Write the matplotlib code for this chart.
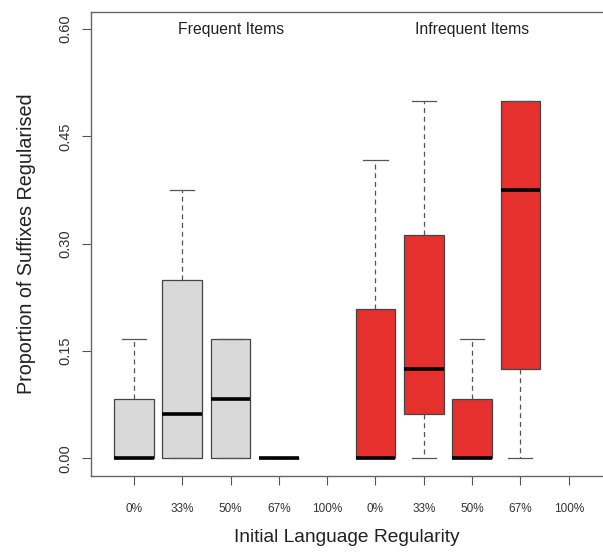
import matplotlib
matplotlib.use('Agg')
import matplotlib.pyplot as plt

plt.rcParams['font.family'] = ['Liberation Sans', 'DejaVu Sans']

tick_labels = ['0%', '33%', '50%', '67%', '100%', '0%', '33%', '50%', '67%', '100%']
groups = ['Frequent Items', 'Infrequent Items']

# five-number summaries (None = no data)
freq_stats = [
    (0.0, 0.0, 0.0, 0.0833, 0.1667),
    (0.0, 0.0, 0.0625, 0.25, 0.375),
    (0.0, 0.0, 0.0833, 0.1667, 0.1667),
    (0.0, 0.0, 0.0, 0.0, 0.0),
    None,
]
infreq_stats = [
    (0.0, 0.0, 0.0, 0.2083, 0.4167),
    (0.0, 0.0625, 0.125, 0.3125, 0.5),
    (0.0, 0.0, 0.0, 0.0833, 0.1667),
    (0.0, 0.125, 0.375, 0.5, 0.5),
    None,
]
colours = ['#d9d9d9', '#e5302e']

fig = plt.figure(figsize=(6.03, 5.55), dpi=100)
ax = fig.add_axes([91/603, 79/555, 1 - 91/603, (476 - 12)/555])

pos = 1
for stats_list, col in zip([freq_stats, infreq_stats], colours):
    for s in stats_list:
        if s is not None:
            lo, q1, med, q3, hi = s
            st = [dict(whislo=lo, q1=q1, med=med, q3=q3, whishi=hi, fliers=[])]
            ax.bxp(st, positions=[pos], widths=0.82, patch_artist=True,
                   showfliers=False, capwidths=0.5,
                   boxprops=dict(facecolor=col, edgecolor='#444444', linewidth=0.9),
                   medianprops=dict(color='black', linewidth=2.6, solid_capstyle='butt'),
                   whiskerprops=dict(color='#555555', linestyle=(0, (4, 3)), linewidth=0.9),
                   capprops=dict(color='#555555', linewidth=0.9))
        pos += 1

ax.set_xlim(0.11, 10.71)
ax.set_ylim(-0.0247, 0.624)
ax.set_xticks(range(1, 11))
ax.set_xticklabels(tick_labels, fontsize=8.5, color='#333333')
ax.set_yticks([0.0, 0.15, 0.30, 0.45, 0.60])
ax.set_yticklabels(['0.00', '0.15', '0.30', '0.45', '0.60'], rotation=90,
                   va='center', fontsize=10.5, color='#333333')
ax.tick_params(axis='x', length=6.5, pad=13, color='#555555')
ax.tick_params(axis='y', length=6.5, pad=7, color='#555555')
for side in ['left', 'bottom', 'top']:
    ax.spines[side].set_color('#666666')
    ax.spines[side].set_linewidth(1.0)
ax.spines['right'].set_visible(False)

ax.text(3, 0.60, groups[0], ha='center', va='center', fontsize=11.3, color='#222222')
ax.text(8, 0.60, groups[1], ha='center', va='center', fontsize=11.3, color='#222222')

ax.set_ylabel('Proportion of Suffixes Regularised', fontsize=14.2, color='#222222', labelpad=16)
ax.set_xlabel('Initial Language Regularity', fontsize=13.8, color='#222222', labelpad=10)

fig.savefig('out.png', dpi=100)
